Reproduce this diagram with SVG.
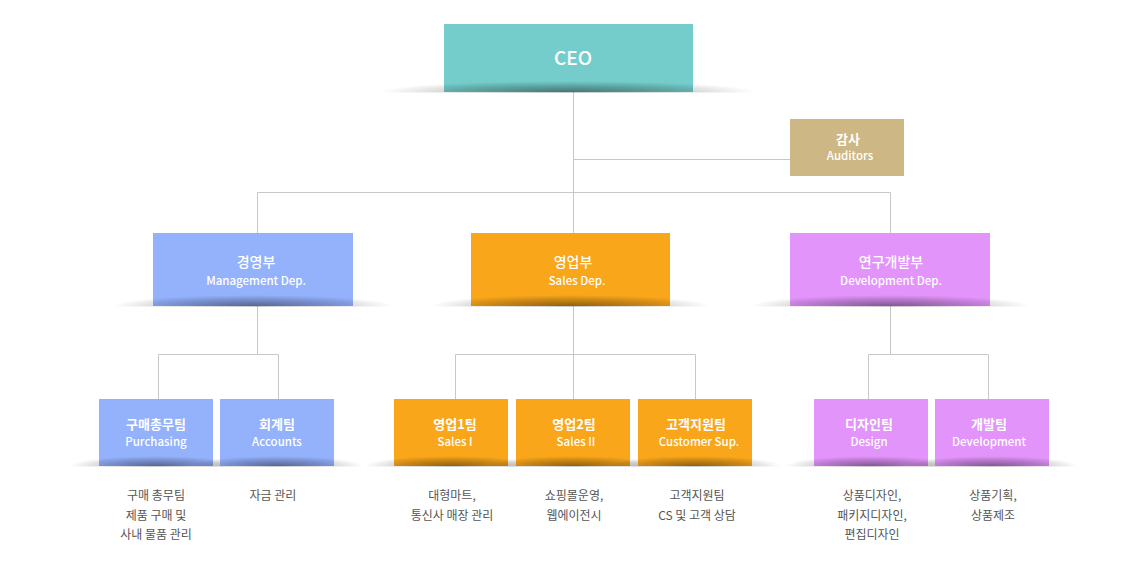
<svg xmlns="http://www.w3.org/2000/svg" width="1140" height="571" viewBox="0 0 1140 571">
<defs>
<radialGradient id="sh" cx="0.5" cy="0.5" r="0.5">
<stop offset="0" stop-color="#000" stop-opacity="0.42"/>
<stop offset="0.55" stop-color="#000" stop-opacity="0.2"/>
<stop offset="1" stop-color="#000" stop-opacity="0"/>
</radialGradient>
<clipPath id="c92"><rect x="0" y="70" width="1140" height="22.5"/></clipPath>
<clipPath id="c306"><rect x="0" y="280" width="1140" height="26.5"/></clipPath>
<clipPath id="c466"><rect x="0" y="440" width="1140" height="26.5"/></clipPath>
</defs>
<style>
text{font-family:"Noto Sans CJK KR","Noto Sans",sans-serif;text-anchor:middle}
.w{fill:#fff}
.ceo{font-size:19px;font-weight:500}
.k{font-size:14px;font-weight:500}
.kb{font-size:13px;font-weight:bold}
.e{font-size:11.5px;font-weight:500}
.d{font-size:12px;fill:#555}
.ln{stroke:#c8c8c8;stroke-width:1;fill:none}
</style>
<rect width="1140" height="571" fill="#fff"/>
<g id="connectors" class="ln">
<path d="M573.5 92V354.5"/>
<path d="M573.5 159.5H790"/>
<path d="M257.5 192.5H890.5M257.5 192.5V233M890.5 192.5V233"/>
<path d="M257.5 306V354.5M158.5 354.5H278.5M158.5 354.5V399M278.5 354.5V399"/>
<path d="M455.5 354.5H695.5M455.5 354.5V399M573.5 354.5V399M695.5 354.5V399"/>
<path d="M890.5 306V354.5M868.5 354.5H988.5M868.5 354.5V399M988.5 354.5V399"/>
</g>
<g id="ceo">
<rect x="444" y="24" width="249" height="68" fill="#74CDCB"/>
<ellipse cx="568" cy="92" rx="188" ry="11" fill="url(#sh)" clip-path="url(#c92)"/>
<text x="573" y="65" class="w ceo">CEO</text>
</g>
<g id="auditors">
<rect x="790" y="119" width="114" height="57" fill="#CDB885"/>
<text x="848" y="144" class="w kb">감사</text>
<text x="850" y="160" class="w e">Auditors</text>
</g>
<g id="management">
<rect x="153" y="233" width="200" height="73" fill="#94B1FC"/>
<ellipse cx="253" cy="306" rx="140" ry="11" fill="url(#sh)" clip-path="url(#c306)"/>
<text x="256" y="267" class="w k">경영부</text>
<text x="256" y="285" class="w e">Management Dep.</text>
</g>
<g id="sales">
<rect x="471" y="233" width="199" height="73" fill="#F9A61A"/>
<ellipse cx="570" cy="306" rx="140" ry="11" fill="url(#sh)" clip-path="url(#c306)"/>
<text x="573" y="267" class="w k">영업부</text>
<text x="577" y="285" class="w e">Sales Dep.</text>
</g>
<g id="development">
<rect x="790" y="233" width="200" height="73" fill="#E294FB"/>
<ellipse cx="890" cy="306" rx="140" ry="11" fill="url(#sh)" clip-path="url(#c306)"/>
<text x="891" y="267" class="w k">연구개발부</text>
<text x="891" y="285" class="w e">Development Dep.</text>
</g>
<g id="purchasing">
<rect x="99" y="399" width="114" height="67" fill="#94B1FC"/>
<ellipse cx="156" cy="466" rx="86" ry="10" fill="url(#sh)" clip-path="url(#c466)"/>
<text x="156" y="429" class="w kb">구매총무팀</text>
<text x="156" y="446" class="w e">Purchasing</text>
<text x="156" y="500" class="d">구매 총무팀</text>
<text x="156" y="520" class="d">제품 구매 및</text>
<text x="156" y="539" class="d">사내 물품 관리</text>
</g>
<g id="accounts">
<rect x="220" y="399" width="114" height="67" fill="#94B1FC"/>
<ellipse cx="277" cy="466" rx="86" ry="10" fill="url(#sh)" clip-path="url(#c466)"/>
<text x="277" y="429" class="w kb">회계팀</text>
<text x="277" y="446" class="w e">Accounts</text>
<text x="273" y="500" class="d">자금 관리</text>
</g>
<g id="sales1">
<rect x="394" y="399" width="114" height="67" fill="#F9A61A"/>
<ellipse cx="451" cy="466" rx="86" ry="10" fill="url(#sh)" clip-path="url(#c466)"/>
<text x="455" y="429" class="w kb">영업1팀</text>
<text x="455" y="446" class="w e">Sales I</text>
<text x="452" y="500" class="d">대형마트,</text>
<text x="452" y="520" class="d">통신사 매장 관리</text>
</g>
<g id="sales2">
<rect x="516" y="399" width="114" height="67" fill="#F9A61A"/>
<ellipse cx="573" cy="466" rx="86" ry="10" fill="url(#sh)" clip-path="url(#c466)"/>
<text x="574" y="429" class="w kb">영업2팀</text>
<text x="576" y="446" class="w e">Sales II</text>
<text x="574" y="500" class="d">쇼핑몰운영,</text>
<text x="574" y="520" class="d">웹에이전시</text>
</g>
<g id="customer">
<rect x="638" y="399" width="114" height="67" fill="#F9A61A"/>
<ellipse cx="695" cy="466" rx="86" ry="10" fill="url(#sh)" clip-path="url(#c466)"/>
<text x="696" y="429" class="w kb">고객지원팀</text>
<text x="699" y="446" class="w e">Customer Sup.</text>
<text x="697" y="500" class="d">고객지원팀</text>
<text x="697" y="520" class="d">CS 및 고객 상담</text>
</g>
<g id="design">
<rect x="814" y="399" width="114" height="67" fill="#E294FB"/>
<ellipse cx="871" cy="466" rx="86" ry="10" fill="url(#sh)" clip-path="url(#c466)"/>
<text x="869" y="429" class="w kb">디자인팀</text>
<text x="869" y="446" class="w e">Design</text>
<text x="872" y="500" class="d">상품디자인,</text>
<text x="872" y="520" class="d">패키지디자인,</text>
<text x="872" y="539" class="d">편집디자인</text>
</g>
<g id="devteam">
<rect x="935" y="399" width="114" height="67" fill="#E294FB"/>
<ellipse cx="992" cy="466" rx="86" ry="10" fill="url(#sh)" clip-path="url(#c466)"/>
<text x="989" y="429" class="w kb">개발팀</text>
<text x="989" y="446" class="w e">Development</text>
<text x="993" y="500" class="d">상품기획,</text>
<text x="993" y="520" class="d">상품제조</text>
</g>
</svg>
